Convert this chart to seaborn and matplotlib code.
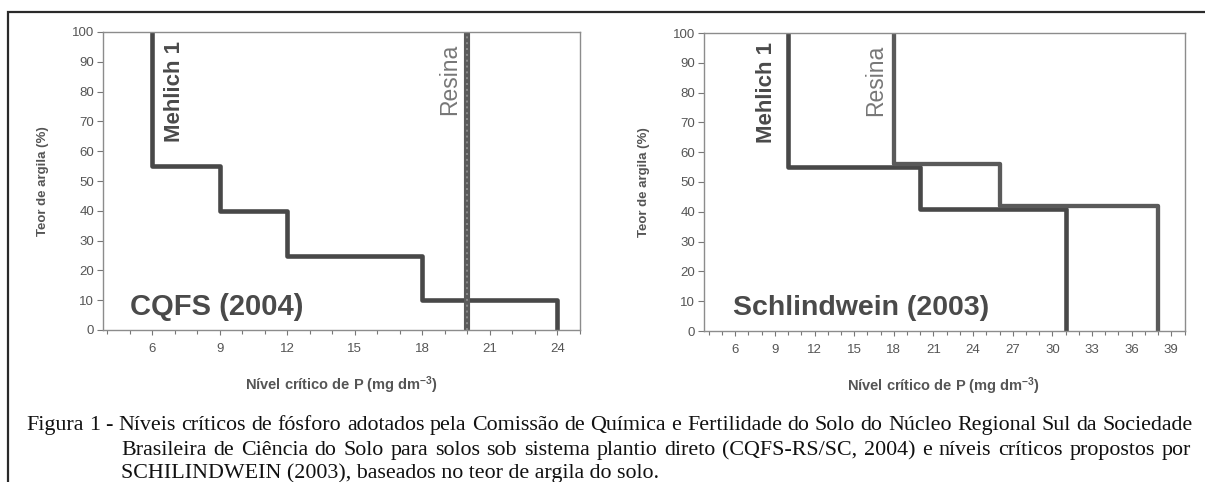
import numpy as np
import pandas as pd
import matplotlib
matplotlib.use('Agg')
import matplotlib.pyplot as plt
from matplotlib.patches import Rectangle
from matplotlib.ticker import MultipleLocator
import seaborn as sns

# CQFS (2004): critical P by clay class (Mehlich 1), resin is a single level
cqfs_p = [6, 9, 12, 18, 24]
cqfs_clay = [100, 55, 40, 25, 10, 0]
cqfs_resina = 20

# Schlindwein (2003)
sch_mehlich_p = [10, 20, 31]
sch_mehlich_clay = [100, 55, 41, 0]
sch_resina_p = [18, 26, 38]
sch_resina_clay = [100, 56, 42, 0]

left_ticks = [6, 9, 12, 15, 18, 21, 24]
right_ticks = [6, 9, 12, 15, 18, 21, 24, 27, 30, 33, 36, 39]
y_ticks = list(range(0, 101, 10))

caption = [
    "Figura 1 - Níveis críticos de fósforo adotados pela Comissão de Química e Fertilidade do Solo do Núcleo Regional Sul da Sociedade",
    "Brasileira de Ciência do Solo para solos sob sistema plantio direto (CQFS-RS/SC, 2004) e níveis críticos propostos por",
    "SCHILINDWEIN (2003), baseados no teor de argila do solo.",
]


def step_frame(p, clay):
    xs, ys = [], []
    for i, v in enumerate(p):
        xs += [v, v]
        ys += [clay[i], clay[i + 1]]
    return pd.DataFrame({'P': xs, 'argila': ys})


sns.set_style('ticks')
plt.rcParams['font.family'] = ['Liberation Sans', 'DejaVu Sans']
plt.rcParams['mathtext.default'] = 'regular'

W, H = 1205, 482
fig = plt.figure(figsize=(W / 100, H / 100), dpi=100)
ax1 = fig.add_axes([102.5 / W, 1 - 330 / H, 477.5 / W, 298 / H])
ax2 = fig.add_axes([703.5 / W, 1 - 331 / H, 481 / W, 298 / H])

line_col = '#484848'
resina_col = '#5a5a5a'
text_col = '#4a4a4a'

# left panel
sns.lineplot(data=step_frame(cqfs_p, cqfs_clay), x='P', y='argila', sort=False,
             estimator=None, color=line_col, lw=3.3, ax=ax1)
res = pd.DataFrame({'P': [cqfs_resina, cqfs_resina], 'argila': [0, 100]})
sns.lineplot(data=res, x='P', y='argila', sort=False, estimator=None,
             color=resina_col, lw=4.4, ax=ax1)
ax1.plot(res['P'], res['argila'], color='#8a8a8a', lw=1.4, ls=(0, (1, 2)))
ax1.set_xlim(3.8, 25)
ax1.set_xticks(left_ticks)
ax1.text(7.0, 63, 'Mehlich 1', rotation=90, ha='center', va='bottom',
         fontsize=16, fontweight='bold', color=text_col)
ax1.text(19.2, 72, 'Resina', rotation=90, ha='center', va='bottom',
         fontsize=16.5, color='#777777')
ax1.text(5.0, 5.0, 'CQFS (2004)', ha='left', va='baseline',
         fontsize=21, fontweight='bold', color=text_col)

# right panel
sns.lineplot(data=step_frame(sch_mehlich_p, sch_mehlich_clay), x='P', y='argila',
             sort=False, estimator=None, color=line_col, lw=3.3, ax=ax2)
sns.lineplot(data=step_frame(sch_resina_p, sch_resina_clay), x='P', y='argila',
             sort=False, estimator=None, color=resina_col, lw=3.1, ax=ax2)
ax2.set_xlim(3.6, 40)
ax2.set_xticks(right_ticks)
ax2.text(8.4, 63, 'Mehlich 1', rotation=90, ha='center', va='bottom',
         fontsize=16, fontweight='bold', color=text_col)
ax2.text(16.6, 72, 'Resina', rotation=90, ha='center', va='bottom',
         fontsize=16.5, color='#777777')
ax2.text(5.8, 5.4, 'Schlindwein (2003)', ha='left', va='baseline',
         fontsize=20.5, fontweight='bold', color=text_col)

for ax in (ax1, ax2):
    ax.set_ylim(0, 100)
    ax.set_yticks(y_ticks)
    ax.xaxis.set_minor_locator(MultipleLocator(1))
    ax.tick_params(axis='y', which='major', length=4.5, width=0.8, color='#777777',
                   labelsize=9.5, labelcolor='#555555', pad=1.5)
    ax.tick_params(axis='x', which='major', length=3.5, width=0.8, color='#777777',
                   labelsize=9.5, labelcolor='#555555', pad=6)
    ax.tick_params(axis='x', which='minor', length=3, width=0.8, color='#777777')
    for s in ax.spines.values():
        s.set_visible(True)
        s.set_color('#8c8c8c')
        s.set_linewidth(1.0)
    ax.set_ylabel('Teor de argila (%)', fontsize=9.5, fontweight='bold', color='#555555')
    ax.set_xlabel('Nível crítico de P (mg dm$^{-3}$)', fontsize=10.5, fontweight='bold',
                  color='#555555')
    ax.yaxis.set_label_coords(-0.112, 0.5)
    ax.xaxis.set_label_coords(0.5, -0.15)

# outer frame (right and bottom edges fall outside the scan)
fig.add_artist(Rectangle((8 / W, -0.1), 1.2, 1 - 11.5 / H + 0.1, transform=fig.transFigure,
                         fill=False, lw=1.6, ec='#2a2a2a', clip_on=False))

# caption: font fitted to the first line, first two lines justified word by word
cap_font = ['Liberation Serif', 'DejaVu Serif']
renderer = fig.canvas.get_renderer()
probe = fig.text(0, 0, caption[0], fontsize=16, family=cap_font)
wid = probe.get_window_extent(renderer).width
probe.remove()
fs = min(16.5, 16 * (1193 - 26) / wid)


def caption_line(text, x0, y, x1=None):
    if x1 is None:
        fig.text(x0 / W, 1 - y / H, text, fontsize=fs, family=cap_font,
                 color='#111111', va='baseline')
        return
    words = text.split(' ')
    items = [fig.text(0, 1 - y / H, w, fontsize=fs, family=cap_font,
                      color='#111111', va='baseline') for w in words]
    widths = [t.get_window_extent(renderer).width for t in items]
    gap = (x1 - x0 - sum(widths)) / (len(words) - 1)
    x = x0
    for t, w in zip(items, widths):
        t.set_x(x / W)
        x += w + gap


caption_line(caption[0], 26, 430, 1193)
caption_line(caption[1], 121, 455, 1191)
caption_line(caption[2], 121, 478)

fig.savefig('out.png', dpi=100)
